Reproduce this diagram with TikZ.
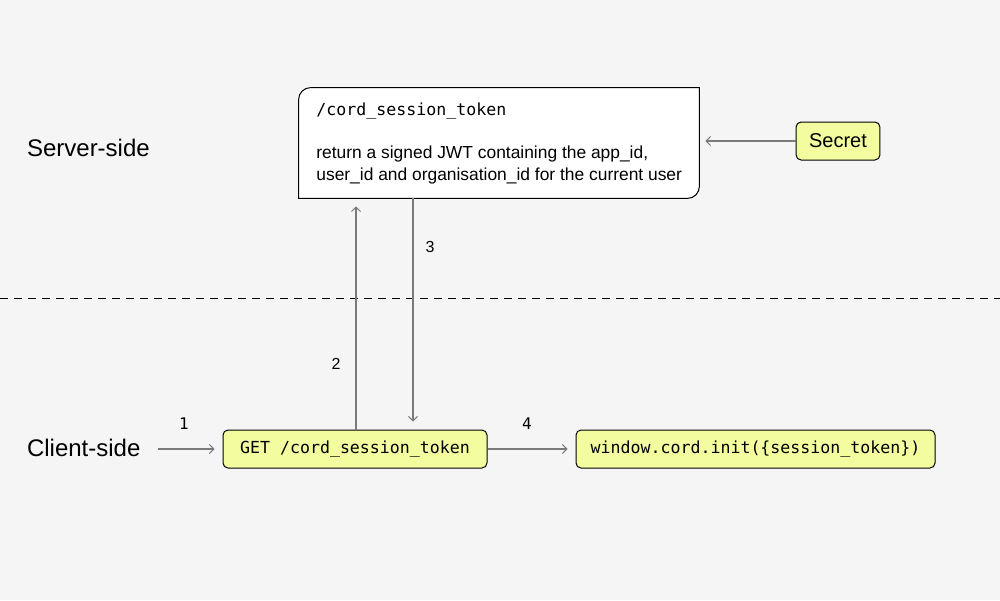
\documentclass[tikz,border=0pt]{standalone}
\usepackage{fontspec}
\setmainfont{Liberation Sans}
\setmonofont{DejaVu Sans Mono}
\usetikzlibrary{arrows.meta,positioning,calc}
\definecolor{cordbg}{HTML}{F5F5F5}
\definecolor{cordyellow}{HTML}{F3FD9F}
\definecolor{cordgrey}{HTML}{7A7A7A}

\begin{document}
\begin{tikzpicture}[x=0.5pt, y=-0.5pt,
    side/.style={font=\fontsize{12}{14}\selectfont, anchor=west},
    codebox/.style={rectangle, draw, fill=cordyellow, rounded corners=2.5pt, line width=0.5pt, minimum height=19pt, inner xsep=7pt, font=\ttfamily\fontsize{8.3}{10}\selectfont},
    flow/.style={draw=cordgrey, line width=0.8pt, -{Straight Barb[length=2.2pt, width=4.5pt, line width=0.5pt]}},
    steplabel/.style={font=\fontsize{8}{10}\selectfont}]
    % canvas
    \fill[cordbg] (0,0) rectangle (1000,600);
    \useasboundingbox (0,0) rectangle (1000,600);

    % sides
    \node [side] (server) at (20,148) {Server-side};
    \node [side] (client) at (20,448) {Client-side};
    \draw [dashed, line width=0.5pt, dash pattern=on 4pt off 3pt] (0,298) coordinate (cutl) -- (1000,298) coordinate (cutr);

    % endpoint on the server
    \node [rectangle, minimum width=200pt, minimum height=55pt, inner sep=0pt] (endpoint) at (499,143) {};
    \draw [line width=0.5pt, fill=white] (endpoint.south west) -- ([yshift=-6pt]endpoint.north west)
        arc[start angle=180, end angle=90, radius=6pt] -- (endpoint.north east)
        -- ([yshift=6pt]endpoint.south east) arc[start angle=0, end angle=-90, radius=6pt] -- cycle;
    \node [anchor=west, inner sep=0pt, font=\ttfamily\fontsize{8.3}{10}\selectfont] (route) at (316,111) {/cord\_session\_token};
    \node [anchor=north west, inner sep=0pt, align=left, font=\fontsize{8.7}{11}\selectfont] (jwt) at (316,145) {return a signed JWT containing the app\_id,\\user\_id and organisation\_id for the current user};

    \node [codebox, font=\fontsize{10}{12}\selectfont, inner xsep=6.5pt] (secret) at (838,141) {Secret};

    % client
    \node [codebox, minimum width=132pt] (fetch) at (355,449) {GET /cord\_session\_token};
    \node [codebox, minimum width=179.5pt] (init) at (755.5,449) {window.cord.init(\{session\_token\})};
    \coordinate (start) at (158,449);

    \draw [flow] (secret.west) -- ([xshift=3pt]endpoint.east |- secret.west);
    \draw [flow] (start) -- ([xshift=-4pt]fetch.west);
    \draw [flow] (fetch.east) -- ([xshift=-4pt]init.west);
    \draw [flow] (fetch.north -| 356,0) -- ([yshift=-4pt]endpoint.south -| 356,0);
    \draw [flow] (endpoint.south -| 413,0) -- ([yshift=4pt]fetch.north -| 413,0);

    \node [steplabel, font=\ttfamily\fontsize{8}{10}\selectfont] (one) at (184,424) {1};
    \node [steplabel] (two) at (336,364) {2};
    \node [steplabel] (three) at (430,247) {3};
    \node [steplabel, font=\ttfamily\fontsize{8}{10}\selectfont] (four) at (527,424) {4};
\end{tikzpicture}
\end{document}
